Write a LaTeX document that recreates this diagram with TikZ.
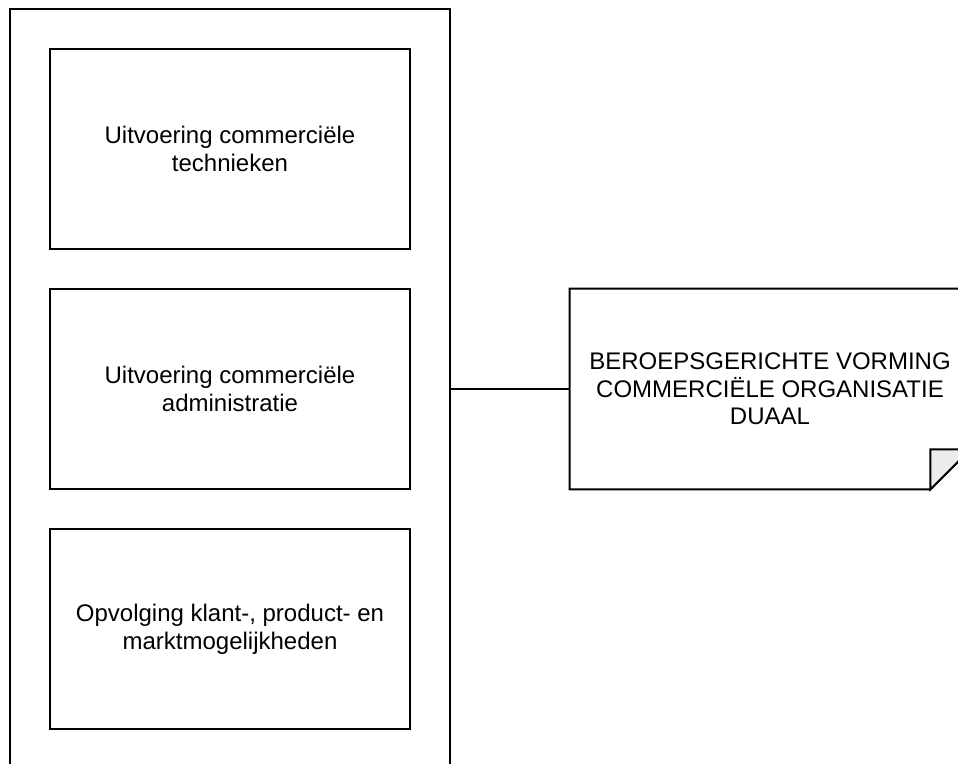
\documentclass[tikz,border=0pt]{standalone}
\usepackage{fontspec}
\setmainfont{Liberation Sans}
\usetikzlibrary{positioning}

\tikzset{
  frame/.style = {draw, line width=1pt, inner sep=0pt},
  module/.style = {frame, minimum width=180pt, minimum height=100pt, align=center},
}

\begin{document}
\begin{tikzpicture}[x=0.5pt, y=-0.5pt, font=\fontsize{12}{13.8}\selectfont, node distance=19pt]
	\useasboundingbox (0,0) rectangle (958,764);
	\node[frame, minimum width=220pt, minimum height=380pt] (opleiding) at (230,389) {};
	\node[module] (technieken) at (230,149) {Uitvoering commerciële\\technieken};
	\node[module, below=of technieken] (administratie) {Uitvoering commerciële\\administratie};
	\node[module, below=of administratie] (opvolging) {Opvolging klant-, product- en\\marktmogelijkheden};
	\node[minimum width=200pt, minimum height=100pt, align=center, inner sep=0pt] (vorming) at (770,389)
		{BEROEPSGERICHTE VORMING\\COMMERCIËLE ORGANISATIE\\DUAAL};
	% note with folded corner
	\draw[line width=1pt] (vorming.north west) -- (vorming.north east) -- ([yshift=20pt]vorming.south east)
		-- ([xshift=-20pt]vorming.south east) -- (vorming.south west) -- cycle;
	\draw[line width=1pt, fill=gray!15] ([xshift=-20pt]vorming.south east) -- ([xshift=-20pt, yshift=20pt]vorming.south east)
		-- ([yshift=20pt]vorming.south east) -- cycle;
	\draw[line width=1pt] (opleiding) -- (vorming);
\end{tikzpicture}
\end{document}
